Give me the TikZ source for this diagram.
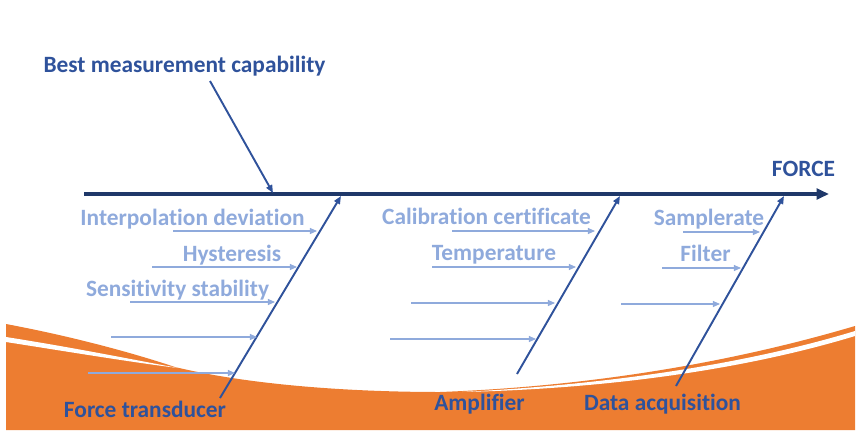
\documentclass[tikz,border=0pt]{standalone}
\usepackage{fontspec}
\setmainfont{Carlito}[Ligatures=NoCommon]
\usetikzlibrary{arrows.meta}
\definecolor{spineblue}{RGB}{31,56,105}
\definecolor{darkblue}{RGB}{47,82,155}
\definecolor{lightblue}{RGB}{143,170,220}
\definecolor{fishorange}{RGB}{237,125,49}
\tikzstyle{spine}=[draw=spineblue,line width=2.4pt,-{Triangle[length=7pt,width=6pt]}]
\tikzstyle{bone}=[draw=darkblue,line width=1.1pt,-{Triangle[length=4.5pt,width=3.6pt]}]
\tikzstyle{cause}=[draw=lightblue,line width=0.6pt,-{Triangle[length=4pt,width=3.4pt]}]
\tikzstyle{mainlabel}=[font=\fontsize{13.3}{16}\selectfont\bfseries,text=darkblue,inner sep=0pt,anchor=base]
\tikzstyle{causelabel}=[mainlabel,text=lightblue]

\begin{document}
\begin{tikzpicture}[x=0.02cm,y=-0.02cm]
    \useasboundingbox (0,0) rectangle (859,430);
    % Orange wave at the bottom
    \fill[fishorange] (6,324) .. controls (70,336) and (130,352) .. (175,367)
        .. controls (250,385) and (350,392) .. (440,392)
        .. controls (600,386) and (740,360) .. (855,326) -- (855,430) -- (6,430) -- cycle;
    \fill[white] (6,337) .. controls (70,347) and (130,359) .. (178,368)
        .. controls (130,362) and (70,352) .. (6,342) -- cycle;
    \fill[white] (462,392) .. controls (600,385) and (740,366) .. (855,331) -- (855,336)
        .. controls (740,371) and (600,389) .. (462,392) -- cycle;

    % The spine
    \coordinate (spinestart) at (84,194);
    \coordinate (spineend) at (829,194);
    \path[spine] (spinestart) -- (spineend);

    % The main bones
    \foreach \xa/\ya/\xb/\yb/\name in {220/398/341/196/transducerbone, 517/374/620/196/amplifierbone, 676/386/784/196/daqbone, 210/81/273/193/bmcbone}
    {
        \coordinate (\name start) at (\xa,\ya);
        \coordinate (\name end) at (\xb,\yb);
        \path[bone] (\name start) -- (\name end);
    }

    % The causes
    \foreach \ys/\xs/\xe/\name in {231/173/317/ca, 267/152/297/cb, 302/130/275/cc, 337/111/257/cd, 373/88/235/ce, 231/452/595/cf, 267/432/576/cg, 303/411/555/ch, 339/390/536/ci, 232/683/760/cj, 268/662/741/ck, 304/621/720/cl}
    {
        \coordinate (\name start) at (\xs,\ys);
        \coordinate (\name end) at (\xe,\ys);
        \path[cause] (\name start) -- (\name end);
    }

    % Labels
    \foreach \pos/\name/\label in {{(184.5,72)/bmc/Best measurement capability}, {(803.5,176)/force/FORCE}, {(145,417)/transducer/Force transducer}, {(479.5,410)/amplifier/Amplifier}, {(662.5,410)/daq/Data acquisition}}
        \node[mainlabel] (\name) at \pos {\label};
    \foreach \pos/\name/\label in {{(192.5,225)/interp/Interpolation deviation}, {(232,261)/hyst/Hysteresis}, {(177.5,296)/sens/Sensitivity stability}, {(486.5,224)/calib/Calibration certificate}, {(494,260)/temp/Temperature}, {(709,225)/rate/Samplerate}, {(705.5,261)/filter/Filter}}
        \node[causelabel] (\name) at \pos {\label};
\end{tikzpicture}
\end{document}
